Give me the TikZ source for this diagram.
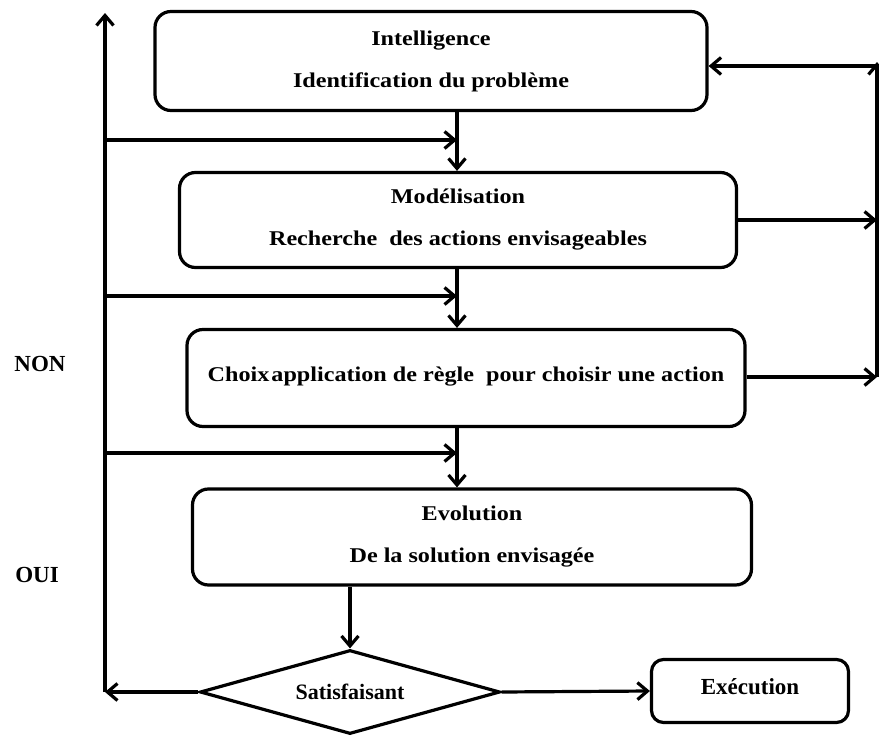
\documentclass[tikz,border=0pt]{standalone}
\usepackage{fontspec}
\setmainfont{Liberation Serif}
\newfontfamily\widefont{Liberation Serif}[FakeStretch=1.15]
\usetikzlibrary{arrows.meta,shapes.geometric,calc}

\tikzset{
  stage/.style={draw, line width=3.2pt, rounded corners=16pt, align=center,
    inner sep=0pt, font=\widefont\bfseries\fontsize{21}{42}\selectfont},
  decision/.style={draw, diamond, line width=3.2pt, inner sep=0pt, aspect=3.57,
    minimum width=300pt, minimum height=84pt, font=\bfseries\fontsize{22}{24}\selectfont},
  endbox/.style={draw, line width=3.2pt, rounded corners=12pt, inner sep=0pt,
    minimum width=197pt, minimum height=63pt, font=\bfseries\fontsize{23}{25}\selectfont},
  side/.style={font=\bfseries\fontsize{23}{25}\selectfont},
  arr/.style={line width=3.2pt, -{Straight Barb[length=10pt,width=17pt]}}
}

\begin{document}
\begin{tikzpicture}[x=1pt,y=-1pt]
  \useasboundingbox (0,0) rectangle (879,736);

  % the four stages of the decision process
  \node[stage, minimum width=552pt, minimum height=99pt] (b1) at (431,61)
    {Intelligence\\Identification du problème};
  \node[stage, minimum width=557pt, minimum height=95pt] (b2) at (458,220)
    {Modélisation\\Recherche\ \ des actions envisageables};
  \node[stage, minimum width=558pt, minimum height=97pt] (b3) at (466,378)
    {\raisebox{8pt}{Choix\hspace{2pt}application de règle\ \ pour choisir une action}};
  \node[stage, minimum width=559pt, minimum height=96pt] (b4) at (472,537)
    {Evolution\\De la solution envisagée};

  % test and final step
  \node[decision] (d) at (350,692) {Satisfaisant};
  \node[endbox] (ex) at (750,691) {\raisebox{8pt}{Exécution}};

  % answers on the feedback side
  \node[side] (non) at (40,364) {NON};
  \node[side] (oui) at (37,575) {OUI};

  % feedback column on the left and its branch points
  \coordinate (lb) at (105,692);
  \coordinate (lt) at (105,13);
  \coordinate (h1) at (105,140);
  \coordinate (h2) at (105,296);
  \coordinate (h3) at (105,453);
  \coordinate (c1) at (457,140);
  \coordinate (c2) at (457,296);
  \coordinate (c3) at (457,453);

  % return column on the right
  \coordinate (r1) at (877,66);
  \coordinate (r2) at (877,220);
  \coordinate (r3) at (877,377);

  % main downward flow
  \draw[arr] (b1.south -| c1) -- (b2.north -| c1);
  \draw[arr] (b2.south -| c2) -- (b3.north -| c2);
  \draw[arr] (b3.south -| c3) -- (b4.north -| c3);
  \draw[arr] (b4.south -| d.north) -- (d.north);

  % decision outcomes
  \draw[arr] (d.west) -- (lb);
  \draw[arr] (d.east) -- (ex.west);

  % left feedback column with its branches
  \draw[arr] (lb) -- (lt);
  \draw[arr] (h1) -- (c1);
  \draw[arr] (h2) -- (c2);
  \draw[arr] (h3) -- (c3);

  % right return column back to the first stage
  \draw[arr] (b2.east |- r2) -- (r2);
  \draw[arr] (b3.east |- r3) -- (r3);
  \draw[arr] (r3) -- ($(r1)+(0,-4)$);
  \draw[arr] ($(r1)+(1.6,0)$) -- (b1.east |- r1);
\end{tikzpicture}
\end{document}
